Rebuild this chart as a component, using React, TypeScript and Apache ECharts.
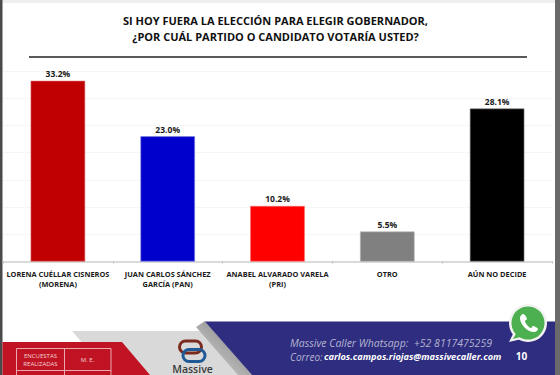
import React, { useEffect, useRef } from "react";
import * as echarts from "echarts";

const categories = [
  "LORENA CUÉLLAR CISNEROS\n(MORENA)",
  "JUAN CARLOS SÁNCHEZ\nGARCÍA (PAN)",
  "ANABEL ALVARADO VARELA\n(PRI)",
  "OTRO",
  "AÚN NO DECIDE",
];
const values = [33.2, 23.0, 10.2, 5.5, 28.1];
const barColors = ["#c00000", "#0000cc", "#ff0000", "#808080", "#000000"];
const barBorders = ["#d9666a", "#7f7fe0", "#ff6666", "#b0b0b0", "#808080"];
const titleLines = "SI HOY FUERA LA ELECCIÓN PARA ELEGIR GOBERNADOR,\n¿POR CUÁL PARTIDO O CANDIDATO VOTARÍA USTED?";
const FONT = "'Open Sans', sans-serif";
const PHONE =
  "M7 3C6 3 4 5 4 7c0 6 7 14 14 14 2 0 4-2 4-3 0-1-4-3-5-3-1 0-1 2-2 2-2 0-6-5-6-7 0-1 2-1 2-2C11 7 9 3 7 3z";

echarts.graphic.registerShape("waPhone", (echarts.graphic as any).extendPath(PHONE, {}));

export default function App() {
  const ref = useRef<HTMLDivElement>(null);
  useEffect(() => {
    document.body.style.margin = "0";
    const chart = echarts.init(ref.current!, null, { renderer: "svg" });
    chart.setOption({
      animation: false,
      backgroundColor: "#ffffff",
      grid: { left: 3, right: 8, top: 71, bottom: 113.5 },
      xAxis: {
        type: "category",
        data: categories,
        axisLine: { lineStyle: { color: "#cfcfcf", width: 1.5 } },
        axisTick: { show: true, length: 2, lineStyle: { color: "#bdbdbd" } },
        axisLabel: {
          interval: 0, color: "#1a1a1a", fontFamily: FONT, fontWeight: "bold",
          fontSize: 7.4, lineHeight: 10, margin: 7,
        },
      },
      yAxis: {
        type: "value", min: 0, max: 35, interval: 5,
        axisLine: { show: false }, axisTick: { show: false }, axisLabel: { show: false },
        splitLine: { lineStyle: { color: "#ececec", width: 1, type: "dotted" } },
      },
      series: [
        {
          type: "bar",
          barWidth: 54.5,
          data: values.map((v, i) => ({
            value: v,
            itemStyle: { color: barColors[i], borderColor: barBorders[i], borderWidth: 0.6 },
          })),
          label: {
            show: true, position: "top", distance: 2.5,
            formatter: (p: any) => p.value.toFixed(1) + "%",
            color: "#1a1a1a", fontFamily: FONT, fontWeight: "bold", fontSize: 8.5,
          },
        },
      ],
      graphic: [
        { type: "rect", shape: { x: 0, y: 0, width: 560, height: 3 }, style: { fill: "#eeeeee" } },
        { type: "rect", shape: { x: 0, y: 0, width: 2.5, height: 375 }, style: { fill: "#4a4a4a" } },
        { type: "text", x: 275.5, y: 28.5, style: { text: titleLines, fill: "#111111", font: `bold 11px ${FONT}`, align: "center", verticalAlign: "middle", lineHeight: 16 } },
        { type: "rect", shape: { x: 29, y: 56, width: 498, height: 2 }, style: { fill: "#595959" } },

        { type: "polygon", shape: { points: [[72, 331], [212, 331], [252, 375], [110, 375]] }, style: { fill: "#d9d9d9" } },
        { type: "polygon", shape: { points: [[2.5, 342], [122, 342], [150, 375], [2.5, 375]] }, style: { fill: "#c01424" } },
        { type: "rect", shape: { x: 16.5, y: 348.5, width: 94.5, height: 40 }, style: { fill: "none", stroke: "#e9a9ae", lineWidth: 1 } },
        { type: "line", shape: { x1: 16.5, y1: 370.5, x2: 111, y2: 370.5 }, style: { stroke: "#e9a9ae", lineWidth: 1 } },
        { type: "line", shape: { x1: 64.5, y1: 348.5, x2: 64.5, y2: 375 }, style: { stroke: "#e9a9ae", lineWidth: 1 } },
        { type: "text", x: 40.5, y: 359.5, style: { text: "ENCUESTAS\nREALIZADAS", fill: "#f3d5d7", font: `6px ${FONT}`, align: "center", verticalAlign: "middle", lineHeight: 8 } },
        { type: "text", x: 87.5, y: 359.5, style: { text: "M. E.", fill: "#f3d5d7", font: `6px ${FONT}`, align: "center", verticalAlign: "middle" } },

        { type: "rect", shape: { x: 179.5, y: 341, width: 22, height: 12, r: 6 }, style: { fill: "none", stroke: "#7a2a1e", lineWidth: 3 } },
        { type: "rect", shape: { x: 183, y: 349.5, width: 22, height: 12, r: 6 }, style: { fill: "none", stroke: "#1f5a96", lineWidth: 3 } },
        { type: "text", x: 192.5, y: 369, style: { text: "Massive", fill: "#3a3a3a", font: `600 10.5px ${FONT}`, align: "center", verticalAlign: "middle" } },

        { type: "polygon", shape: { points: [[196, 327], [205, 321], [252, 375], [238, 375]] }, style: { fill: { type: "linear", x: 0, y: 1, x2: 1, y2: 0, colorStops: [{ offset: 0, color: "#d9d9d9" }, { offset: 1, color: "#777777" }] } } },
        { type: "polygon", shape: { points: [[205, 321.5], [556, 321.5], [556, 375], [252, 375]] }, style: { fill: "#2e2d80" } },
        { type: "rect", shape: { x: 555, y: 0, width: 5, height: 375 }, style: { fill: "#6a6a6a" } },

        { type: "text", x: 290, y: 343, style: { text: "Massive Caller Whatsapp:  +52 8117475259", fill: "#b4b4cf", font: `italic 10.5px ${FONT}`, align: "left", verticalAlign: "middle" } },
        { type: "text", x: 290, y: 356.5, style: { text: "Correo:", fill: "#b4b4cf", font: `italic 10px ${FONT}`, align: "left", verticalAlign: "middle" } },
        { type: "text", x: 324, y: 356.5, style: { text: "carlos.campos.riojas@massivecaller.com", fill: "#ffffff", font: `italic bold 9.2px ${FONT}`, align: "left", verticalAlign: "middle" } },
        { type: "text", x: 521.5, y: 356, style: { text: "10", fill: "#ffffff", font: `bold 10px ${FONT}`, align: "center", verticalAlign: "middle" } },

        { type: "polygon", shape: { points: [[515, 330], [509, 342], [526, 338]] }, style: { fill: "#f2f2f2" } },
        { type: "circle", shape: { cx: 528, cy: 323, r: 19 }, style: { fill: "#f2f2f2" } },
        { type: "polygon", shape: { points: [[517, 332], [513, 339], [524, 336]] }, style: { fill: "#4caf50" } },
        { type: "circle", shape: { cx: 528, cy: 323, r: 16.5 }, style: { fill: "#4caf50" } },
        { type: "waPhone", x: 516, y: 311, scaleX: 1, scaleY: 1, style: { fill: "#ffffff" } },
      ],
    });
    return () => chart.dispose();
  }, []);
  return <div ref={ref} style={{ width: 560, height: 375 }} />;
}
